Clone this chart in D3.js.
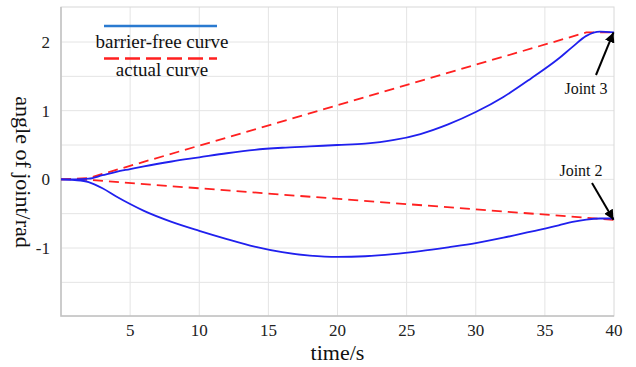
<!DOCTYPE html>
<html>
<head>
<meta charset="utf-8">
<script src="https://cdn.jsdelivr.net/npm/d3@7"></script>
<style>
  body { margin: 0; background: #fff; }
  svg text { font-family: "Liberation Serif", "DejaVu Serif", serif; }
</style>
</head>
<body>
<figure id="chart" style="margin:0"></figure>
<script>
// time samples (s)
const tBlue = [0, 1, 2, 3, 4, 5, 6, 8, 10, 12, 14, 16, 18, 20, 22, 24, 26, 28, 30, 32, 34, 36, 37, 38, 39, 40];
// barrier-free curves
const joint3Free = [0, 0, 0.01, 0.06, 0.11, 0.15, 0.19, 0.26, 0.32, 0.38, 0.43, 0.46, 0.48, 0.50, 0.52, 0.57, 0.66, 0.80, 0.98, 1.2, 1.47, 1.76, 1.93, 2.09, 2.15, 2.14];
const joint2Free = [0, -0.01, -0.04, -0.13, -0.25, -0.36, -0.46, -0.62, -0.75, -0.87, -0.98, -1.06, -1.11, -1.13, -1.12, -1.09, -1.045, -0.99, -0.93, -0.85, -0.76, -0.67, -0.62, -0.585, -0.57, -0.57];
// actual curves
const tJoint3Actual = [0, 2, 38, 40];
const joint3Actual = [0, 0.02, 2.14, 2.14];
const tJoint2Actual = [0, 1.5, 40];
const joint2Actual = [0, 0, -0.59];

const xTicks = [5, 10, 15, 20, 25, 30, 35, 40];
const xGrid = [5, 10, 15, 20, 25, 30, 35];
const yTicks = [-1, 0, 1, 2];
const yGrid = [-1.5, -1, -0.5, 0, 0.5, 1, 1.5, 2];
const legendLabels = ["barrier-free curve", "actual curve"];
const jointLabels = ["Joint 3", "Joint 2"];

const W = 636, H = 367;
const margin = { left: 61, top: 7, right: 22, bottom: 51 };
const width = W - margin.left - margin.right;
const height = H - margin.top - margin.bottom;
const serif = '"Liberation Serif", "Times New Roman", serif';

const blue = "#2020ee", red = "#ff2020", legendBlue = "#2a7ad0";

const svg = d3.select("figure#chart")
  .append("svg")
  .attr("width", W)
  .attr("height", H)
  .attr("font-family", serif);

const g = svg.append("g")
  .attr("transform", "translate(" + margin.left + "," + margin.top + ")");

const x = d3.scaleLinear().domain([0, 40]).range([0, width]);
const y = d3.scaleLinear().domain([-1.99, 2.51]).range([height, 0]);

// grid
g.append("g")
  .selectAll("line")
  .data(xGrid)
  .join("line")
  .attr("x1", d => x(d)).attr("x2", d => x(d))
  .attr("y1", 0).attr("y2", height)
  .attr("stroke", "#e4e4e4");

g.append("g")
  .selectAll("line")
  .data(yGrid)
  .join("line")
  .attr("x1", 0).attr("x2", width)
  .attr("y1", d => y(d)).attr("y2", d => y(d))
  .attr("stroke", "#e4e4e4");

// frame
g.append("rect")
  .attr("width", width).attr("height", height)
  .attr("fill", "none")
  .attr("stroke", "#d8d8d8");
g.append("path")
  .attr("d", `M0,0V${height}H${width}`)
  .attr("fill", "none")
  .attr("stroke", "#c2c2c2")
  .attr("stroke-width", 1.5);

// tick labels
g.append("g")
  .selectAll("text")
  .data(xTicks)
  .join("text")
  .attr("x", d => x(d))
  .attr("y", height + 20)
  .attr("text-anchor", "middle")
  .style("font", "17px " + serif)
  .attr("fill", "#222")
  .text(d => d);

g.append("g")
  .selectAll("text")
  .data(yTicks)
  .join("text")
  .attr("x", -11)
  .attr("y", d => y(d))
  .attr("dy", "0.35em")
  .attr("text-anchor", "end")
  .style("font", "17px " + serif)
  .attr("fill", "#222")
  .text(d => d);

// axis titles
svg.append("text")
  .attr("x", margin.left + width / 2)
  .attr("y", 360)
  .attr("text-anchor", "middle")
  .style("font", "22px " + serif)
  .attr("fill", "#111")
  .text("time/s");

svg.append("text")
  .attr("transform", "translate(16,172) rotate(90)")
  .attr("text-anchor", "middle")
  .style("font", "22px " + serif)
  .attr("fill", "#111")
  .text("angle of joint/rad");

// curves
const line = d3.line()
  .x(d => x(d[0]))
  .y(d => y(d[1]))
  .curve(d3.curveMonotoneX);

const lineStraight = d3.line()
  .x(d => x(d[0]))
  .y(d => y(d[1]));

const actual = [
  d3.zip(tJoint3Actual, joint3Actual),
  d3.zip(tJoint2Actual, joint2Actual)
];
const free = [
  d3.zip(tBlue, joint3Free),
  d3.zip(tBlue, joint2Free)
];

g.append("g")
  .selectAll("path")
  .data(actual)
  .join("path")
  .attr("d", lineStraight)
  .attr("fill", "none")
  .attr("stroke", red)
  .attr("stroke-width", 1.8)
  .attr("stroke-dasharray", "10,6");

g.append("g")
  .selectAll("path")
  .data(free)
  .join("path")
  .attr("d", line)
  .attr("fill", "none")
  .attr("stroke", blue)
  .attr("stroke-width", 1.8);

// legend
const legend = svg.append("g");
legend.append("line")
  .attr("x1", 104).attr("x2", 217)
  .attr("y1", 26).attr("y2", 26)
  .attr("stroke", legendBlue)
  .attr("stroke-width", 2.5);
legend.append("line")
  .attr("x1", 104).attr("x2", 217)
  .attr("y1", 58.5).attr("y2", 58.5)
  .attr("stroke", red)
  .attr("stroke-width", 2.5)
  .attr("stroke-dasharray", "15,6");
legend.selectAll("text")
  .data(legendLabels)
  .join("text")
  .attr("x", 162)
  .attr("y", (d, i) => 48 + i * 28)
  .attr("text-anchor", "middle")
  .style("font", "19px " + serif)
  .attr("fill", "#111")
  .text(d => d);

// annotations
svg.append("defs").append("marker")
  .attr("id", "arrow")
  .attr("viewBox", "0 0 10 10")
  .attr("refX", 10).attr("refY", 5)
  .attr("markerWidth", 5).attr("markerHeight", 5)
  .attr("markerUnits", "strokeWidth")
  .attr("orient", "auto")
  .append("path")
  .attr("d", "M0,0L10,5L0,10Z")
  .attr("fill", "#000");

const ends = [
  [40, joint3Free[joint3Free.length - 1]],
  [40, joint2Actual[joint2Actual.length - 1]]
];
const labelPos = [[586, 94], [581, 176]];
const arrowStart = [[596, 75], [592, 183]];

jointLabels.forEach((lab, i) => {
  svg.append("text")
    .attr("x", labelPos[i][0])
    .attr("y", labelPos[i][1])
    .attr("text-anchor", "middle")
    .style("font", "16px " + serif)
    .attr("fill", "#111")
    .text(lab);
  svg.append("line")
    .attr("x1", arrowStart[i][0]).attr("y1", arrowStart[i][1])
    .attr("x2", margin.left + x(ends[i][0]) - 0.5)
    .attr("y2", margin.top + y(ends[i][1]))
    .attr("stroke", "#000")
    .attr("stroke-width", 2)
    .attr("marker-end", "url(#arrow)");
});
</script>
</body>
</html>
